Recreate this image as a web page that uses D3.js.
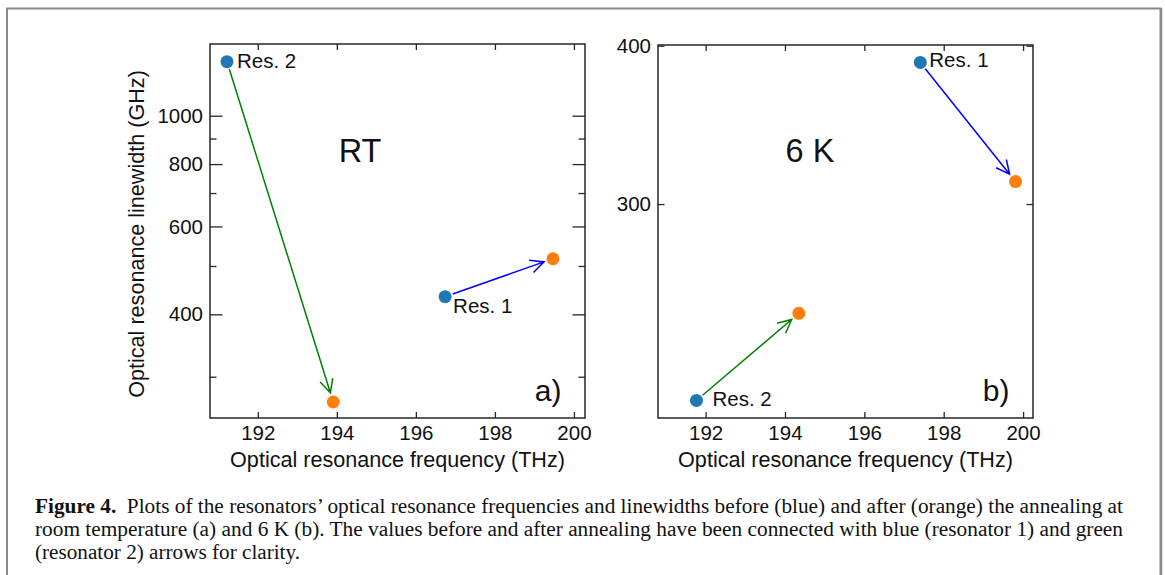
<!DOCTYPE html>
<html>
<head>
<meta charset="utf-8">
<script src="https://cdn.jsdelivr.net/npm/d3@7"></script>
<style>
  html, body { margin: 0; padding: 0; background: #fff; }
  svg text { fill: #111; }
</style>
</head>
<body>
<div id="chart"></div>
<script>
// values
const resonators = ['Res. 1', 'Res. 2'];
const arrowColors = ['#0000ff', '#008000'];

// room temperature panel
const rtBeforeFreq  = [196.74, 191.22];
const rtBeforeWidth = [434, 1283];
const rtAfterFreq   = [199.47, 193.91];
const rtAfterWidth  = [517, 267];

// 6 K panel
const k6BeforeFreq  = [197.41, 191.77];
const k6BeforeWidth = [388, 210];
const k6AfterFreq   = [199.81, 194.35];
const k6AfterWidth  = [312.5, 246];

const xTicks = [192, 194, 196, 198, 200];
const rtYMajor = [400, 600, 800, 1000];
const rtYMinor = [300, 500, 700, 900];
const k6YTicks = [300, 400];

const W = 1165, H = 575;
const FONT = 'Liberation Sans, Arial, Helvetica, sans-serif';
const SERIF = 'Liberation Serif, Times New Roman, serif';
const BLUE = '#1f77b4', ORANGE = '#ff7f0e', SPINE = '#262626';

const svg = d3.select('#chart').append('svg')
    .attr('width', W).attr('height', H);

// page frame
svg.append('path')
    .attr('d', 'M7,575 V8.5 H1160.5 V575')
    .attr('fill', 'none').attr('stroke', '#8a8a8a').attr('stroke-width', 2);
svg.append('line').attr('x1', 1161.5).attr('x2', 1161.5).attr('y1', 8).attr('y2', 575)
    .attr('stroke', '#8a8a8a').attr('stroke-width', 1.5);

const panels = [
    {
        left: 210, top: 44, width: 375, height: 374,
        xDomain: [190.79, 200.28], yDomain: [248, 1392],
        yMajor: rtYMajor, yMinor: rtYMinor,
        before: [rtBeforeFreq, rtBeforeWidth], after: [rtAfterFreq, rtAfterWidth],
        title: 'RT', titleX: 150, titleY: 118, tag: 'a)',
        labelOffsets: [[8, 16], [10, 6]],
        yLabel: 'Optical resonance linewidth (GHz)'
    },
    {
        left: 658, top: 45, width: 375, height: 373,
        xDomain: [190.80, 200.25], yDomain: [203.4, 400.5],
        yMajor: [], yMinor: k6YTicks, labelMinor: true,
        before: [k6BeforeFreq, k6BeforeWidth], after: [k6AfterFreq, k6AfterWidth],
        title: '6 K', titleX: 152, titleY: 117, tag: 'b)',
        labelOffsets: [[9, 4.5], [16, 6]]
    }
];

panels.forEach(p => {
    const g = svg.append('g').attr('transform', `translate(${p.left},${p.top})`);
    const x = d3.scaleLinear().domain(p.xDomain).range([0, p.width]);
    const y = d3.scaleLog().domain(p.yDomain).range([p.height, 0]);

    function style(sel) {
        sel.select('.domain').remove();
        sel.selectAll('line').attr('stroke', SPINE).attr('stroke-width', 1.3);
        sel.selectAll('text').attr('font-family', FONT).attr('font-size', 20.5).attr('fill', '#111');
    }

    // x axes (bottom labelled, top ticks only)
    g.append('g').attr('transform', `translate(0,${p.height})`)
        .call(d3.axisBottom(x).tickValues(xTicks).tickSize(-6).tickPadding(7).tickFormat(d3.format('d')))
        .call(style);
    g.append('g')
        .call(d3.axisTop(x).tickValues(xTicks).tickSize(-6).tickFormat(''))
        .call(style);

    // y axes, long ticks for labelled values
    const longFmt = d3.format('d');
    g.append('g')
        .call(d3.axisLeft(y).tickValues(p.yMajor).tickSize(-12.5).tickPadding(7).tickFormat(longFmt))
        .call(style);
    g.append('g')
        .call(d3.axisLeft(y).tickValues(p.yMinor).tickSize(-6.5).tickPadding(7)
            .tickFormat(p.labelMinor ? longFmt : ''))
        .call(style);
    g.append('g').attr('transform', `translate(${p.width},0)`)
        .call(d3.axisRight(y).tickValues(p.yMajor).tickSize(-12.5).tickFormat(''))
        .call(style);
    g.append('g').attr('transform', `translate(${p.width},0)`)
        .call(d3.axisRight(y).tickValues(p.yMinor).tickSize(-6.5).tickFormat(''))
        .call(style);

    // spines
    g.append('rect').attr('width', p.width).attr('height', p.height)
        .attr('fill', 'none').attr('stroke', SPINE).attr('stroke-width', 1.5);

    // arrows before -> after
    resonators.forEach((r, i) => {
        const x0 = x(p.before[0][i]), y0 = y(p.before[1][i]);
        const x1 = x(p.after[0][i]), y1 = y(p.after[1][i]);
        const a = Math.atan2(y1 - y0, x1 - x0);
        const sx = x0 + 8 * Math.cos(a), sy = y0 + 8 * Math.sin(a);
        const ex = x1 - 9.5 * Math.cos(a), ey = y1 - 9.5 * Math.sin(a);
        const hl = 15, ha = 26 * Math.PI / 180;
        const h1 = [ex - hl * Math.cos(a - ha), ey - hl * Math.sin(a - ha)];
        const h2 = [ex - hl * Math.cos(a + ha), ey - hl * Math.sin(a + ha)];
        g.append('path')
            .attr('d', `M${sx},${sy}L${ex},${ey}M${h1[0]},${h1[1]}L${ex},${ey}L${h2[0]},${h2[1]}`)
            .attr('fill', 'none').attr('stroke', arrowColors[i]).attr('stroke-width', 1.5);
    });

    // points
    g.selectAll('circle.before').data(resonators).join('circle').attr('class', 'before')
        .attr('cx', (d, i) => x(p.before[0][i])).attr('cy', (d, i) => y(p.before[1][i]))
        .attr('r', 6.5).attr('fill', BLUE);
    g.selectAll('circle.after').data(resonators).join('circle').attr('class', 'after')
        .attr('cx', (d, i) => x(p.after[0][i])).attr('cy', (d, i) => y(p.after[1][i]))
        .attr('r', 6.5).attr('fill', ORANGE);

    // resonator labels
    g.selectAll('text.res').data(resonators).join('text').attr('class', 'res')
        .attr('x', (d, i) => x(p.before[0][i]) + p.labelOffsets[i][0])
        .attr('y', (d, i) => y(p.before[1][i]) + p.labelOffsets[i][1])
        .attr('font-family', FONT).attr('font-size', 20.5)
        .text(d => d);

    g.append('text').attr('x', p.titleX).attr('y', p.titleY)
        .attr('text-anchor', 'middle').attr('font-family', FONT).attr('font-size', 32.5)
        .text(p.title);
    g.append('text').attr('x', p.width - 23.5).attr('y', p.height - 17.3)
        .attr('text-anchor', 'end').attr('font-family', FONT).attr('font-size', 30)
        .text(p.tag);

    g.append('text').attr('x', p.width / 2).attr('y', p.height + 48.5)
        .attr('text-anchor', 'middle').attr('font-family', FONT).attr('font-size', 21.6)
        .text('Optical resonance frequency (THz)');

    if (p.yLabel) {
        g.append('text')
            .attr('transform', `translate(${144 - p.left},${p.height / 2 + 3}) rotate(-90)`)
            .attr('text-anchor', 'middle').attr('font-family', FONT).attr('font-size', 21.6)
            .text(p.yLabel);
    }
});

// caption
const captionLines = [
    'room temperature (a) and 6 K (b). The values before and after annealing have been connected with blue (resonator 1) and green',
    '(resonator 2) arrows for clarity.'
];
const cap1 = svg.append('text').attr('x', 35).attr('y', 513)
    .attr('font-family', SERIF).attr('font-size', 20.5)
    .attr('textLength', 1088).attr('lengthAdjust', 'spacingAndGlyphs');
cap1.append('tspan').attr('font-weight', 'bold').text('Figure 4.');
cap1.append('tspan').text('  Plots of the resonators\u2019 optical resonance frequencies and linewidths before (blue) and after (orange) the annealing at')
    .style('white-space', 'pre');
svg.append('text').attr('x', 35).attr('y', 536)
    .attr('font-family', SERIF).attr('font-size', 20.5)
    .attr('textLength', 1088).attr('lengthAdjust', 'spacingAndGlyphs')
    .text(captionLines[0]);
svg.append('text').attr('x', 35).attr('y', 559)
    .attr('font-family', SERIF).attr('font-size', 20.5)
    .attr('textLength', 265).attr('lengthAdjust', 'spacingAndGlyphs')
    .text(captionLines[1]);
</script>
</body>
</html>
